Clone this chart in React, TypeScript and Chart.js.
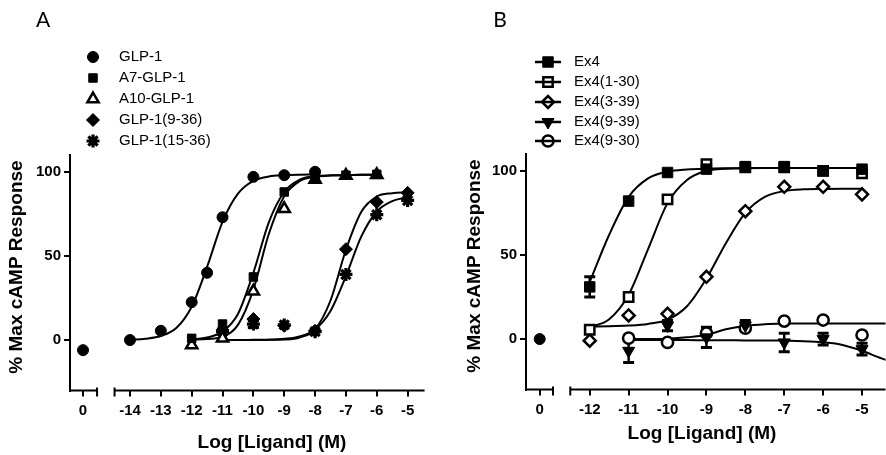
import React, { useEffect, useRef } from 'react';
import { Chart, registerables } from 'chart.js';
import { drawPoint } from 'chart.js/helpers';

Chart.register(...registerables);

// ---------------- shared axis content ----------------
const Y_TICKS = [0, 50, 100];
const ZERO_TICKS = [0];
const Y_TITLE = '% Max cAMP Response';
const X_TITLE = 'Log [Ligand] (M)';

// ---------------- Panel A data ----------------
const A_TICKS = [-14, -13, -12, -11, -10, -9, -8, -7, -6, -5];
const A_LABELS = ['GLP-1', 'A7-GLP-1', 'A10-GLP-1', 'GLP-1(9-36)', 'GLP-1(15-36)'];
const A_BASAL_X = [0];
const A_BASAL_Y = [-6];
const A_GLP1_X = [-14, -13, -12, -11.5, -11, -10, -9, -8];
const A_GLP1_Y = [0, 5.5, 22.5, 40, 73, 97, 98, 100];
const A_A7_X = [-12, -11, -10, -9, -8, -7, -6];
const A_A7_Y = [1, 9.5, 37.5, 88, 96, 98, 98.5];
const A_A10_X = [-12, -11, -10, -9, -8, -7, -6];
const A_A10_Y = [-3, 1, 29, 78, 95.5, 97.8, 98.2];
const A_G936_X = [-11, -10, -9, -8, -7, -6, -5];
const A_G936_Y = [6, 12.5, 8.5, 5.5, 54, 82, 87.5];
const A_G1536_X = [-11, -10, -9, -8, -7, -6, -5];
const A_G1536_Y = [5, 9.5, 9, 5, 39, 74.5, 83];
const A_G1536_ERR = [0, 2, 0, 0, 0, 0, 0];

// fitted curves, every half log unit
const A_FIT_GLP1_X = [-14, -13.5, -13, -12.5, -12, -11.5, -11, -10.5, -10, -9.5, -9, -8.5, -8];
const A_FIT_GLP1_Y = [0.2, 0.8, 2.4, 7.1, 19.8, 43.5, 70.3, 87, 94.6, 97.2, 98, 98.3, 98.4];
const A_FIT_A7_X = [-12, -11.5, -11, -10.5, -10, -9.5, -9, -8.5, -8, -7.5, -7, -6.5, -6];
const A_FIT_A7_Y = [0.4, 1.5, 5, 15.5, 40, 70, 88, 95.3, 97.4, 97.9, 98, 98.2, 98.3];
const A_FIT_A10_X = [-12, -11.5, -11, -10.5, -10, -9.5, -9, -8.5, -8, -7.5, -7, -6.5, -6];
const A_FIT_A10_Y = [0.2, 0.6, 2, 9, 30, 63, 85.5, 94.5, 97, 97.8, 98, 98.2, 98.3];
const A_FIT_G936_X = [-11, -10.5, -10, -9.5, -9, -8.5, -8, -7.5, -7, -6.5, -6, -5.5, -5];
const A_FIT_G936_Y = [0, 0, 0, 0.1, 0.3, 1.5, 6.4, 23.5, 53.7, 76.3, 85.3, 87.3, 87.9];
const A_FIT_G1536_X = [-11, -10.5, -10, -9.5, -9, -8.5, -8, -7.5, -7, -6.5, -6, -5.5, -5];
const A_FIT_G1536_Y = [0, 0, 0.1, 0.2, 0.7, 2.1, 6.3, 17.3, 38, 61.6, 76.4, 82.6, 85];

// ---------------- Panel B data ----------------
const B_TICKS = [-12, -11, -10, -9, -8, -7, -6, -5];
const B_LABELS = ['Ex4', 'Ex4(1-30)', 'Ex4(3-39)', 'Ex4(9-39)', 'Ex4(9-30)'];
const B_BASAL_X = [0];
const B_BASAL_Y = [0];
const B_EX4_X = [-12, -11, -10, -9, -8, -7, -6, -5];
const B_EX4_Y = [31, 82, 99, 101, 102.5, 102.5, 100, 101];
const B_EX4_ERR = [6, 0, 0, 0, 0, 0, 0, 0];
const B_E130_X = [-12, -11, -10, -9, -8, -7, -6, -5];
const B_E130_Y = [5.5, 25, 83, 104, 102, 102, 100, 98.5];
const B_E339_X = [-12, -11, -10, -9, -8, -7, -6, -5];
const B_E339_Y = [-1, 14, 15, 37, 76, 90.5, 90.5, 86];
const B_E939_X = [-11, -10, -9, -8, -7, -6, -5];
const B_E939_Y = [-7, 8, 1, 8, -2, 0, -6];
const B_E939_ERR = [7, 3, 6, 3, 5.5, 3.5, 3.5];
const B_E930_X = [-11, -10, -9, -8, -7, -6, -5];
const B_E930_Y = [0.5, -2, 3.5, 6.5, 10.7, 11.3, 2.4];

const B_FIT_EX4_X = [-12, -11.5, -11, -10.5, -10, -9.5, -9, -8.5, -8, -7.5, -7, -6.5, -6, -5.5, -5];
const B_FIT_EX4_Y = [34, 62, 84.5, 95.5, 99.5, 100.8, 101.3, 101.5, 101.6, 101.7, 101.7, 101.7, 101.7, 101.7, 101.7];
const B_FIT_E130_X = [-12, -11.5, -11, -10.5, -10, -9.5, -9, -8.5, -8, -7.5, -7, -6.5, -6, -5.5, -5];
const B_FIT_E130_Y = [7, 11.7, 26.3, 53.5, 80.8, 94.5, 100, 101.3, 101.6, 101.7, 101.7, 101.7, 101.7, 101.7, 101.7];
const B_FIT_E339_X = [-12, -11.5, -11, -10.5, -10, -9.5, -9, -8.5, -8, -7.5, -7, -6.5, -6, -5.5, -5];
const B_FIT_E339_Y = [7.5, 7.6, 8, 9, 11.5, 19.5, 36, 57, 75, 84.5, 88, 89, 89.2, 89.3, 89.3];
const B_FIT_E939_X = [-11, -10.5, -10, -9.5, -9, -8.5, -8, -7.5, -7, -6.5, -6, -5.5, -5, -4.5, -4];
const B_FIT_E939_Y = [-0.5, -0.5, -0.6, -0.6, -0.7, -0.7, -0.8, -0.8, -1, -1.3, -2, -3.5, -7, -11.5, -15];
const B_FIT_E930_X = [-11, -10.5, -10, -9.5, -9, -8.5, -8, -7.5, -7, -6.5, -6, -5.5, -5, -4.5, -4];
const B_FIT_E930_Y = [0, 0, 0.2, 1, 2.5, 5.8, 7.8, 8.8, 9.2, 9.3, 9.3, 9.3, 9.3, 9.3, 9.3];

// ---------------- styles ----------------
const FONT = '"Liberation Sans", Arial, Helvetica, sans-serif';
const WHITE = '#ffffff';
const BLACK = '#000000';

const ST = {
  dotA: { pointStyle: 'circle', radius: 5.5, fill: BLACK, borderWidth: 1 },
  sqA: { pointStyle: 'rect', radius: 6, fill: BLACK, borderWidth: 1 },
  triOpenA: { pointStyle: 'triangle', radius: 6.5, fill: WHITE, borderWidth: 2.5 },
  diaA: { pointStyle: 'rectRot', radius: 6.5, fill: BLACK, borderWidth: 1 },
  starA: { pointStyle: 'star', radius: 6.5, fill: BLACK, borderWidth: 3.2 },
  sqB: { pointStyle: 'rect', radius: 7.4, fill: BLACK, borderWidth: 1 },
  sqOpenB: { pointStyle: 'rect', radius: 6.6, fill: WHITE, borderWidth: 2.5 },
  diaOpenB: { pointStyle: 'rectRot', radius: 6, fill: WHITE, borderWidth: 2.5 },
  triDownB: { pointStyle: 'triangle', radius: 7, fill: BLACK, borderWidth: 1, rotation: 180 },
  circOpenB: { pointStyle: 'circle', radius: 5.6, fill: WHITE, borderWidth: 2.5 },
  dotB: { pointStyle: 'circle', radius: 5.5, fill: BLACK, borderWidth: 1 },
};

const PANELS = [
  {
    letter: 'A', left: 0, letterPos: [43, 20],
    ticks: A_TICKS, xMin: -14.8, xMax: -4.45, axisStart: -14.5,
    zMin: -1, zMax: 1.715, zSegEnd: 1.08, zWeight: 35.3, xWeight: 319.3,
    yWidth: 70, padTop: 155, padRight: 18.4, xHeight: 64.5,
    xTitlePos: [272, 443], yTitlePos: [17, 267],
    legend: { markerX: 93, textX: 119, rows: [57, 78, 99, 120, 141], line: false },
    basal: { x: A_BASAL_X, y: A_BASAL_Y, style: ST.dotA },
    series: [
      { label: A_LABELS[0], x: A_GLP1_X, y: A_GLP1_Y, style: ST.dotA },
      { label: A_LABELS[1], x: A_A7_X, y: A_A7_Y, style: ST.sqA },
      { label: A_LABELS[2], x: A_A10_X, y: A_A10_Y, style: ST.triOpenA },
      { label: A_LABELS[3], x: A_G936_X, y: A_G936_Y, style: ST.diaA },
      { label: A_LABELS[4], x: A_G1536_X, y: A_G1536_Y, err: A_G1536_ERR, style: ST.starA },
    ],
    fits: [
      { x: A_FIT_GLP1_X, y: A_FIT_GLP1_Y },
      { x: A_FIT_A7_X, y: A_FIT_A7_Y },
      { x: A_FIT_A10_X, y: A_FIT_A10_Y },
      { x: A_FIT_G936_X, y: A_FIT_G936_Y },
      { x: A_FIT_G1536_X, y: A_FIT_G1536_Y },
    ],
  },
  {
    letter: 'B', left: 443, letterPos: [57, 20],
    ticks: B_TICKS, xMin: -12.7, xMax: -4.397, axisStart: -12.5,
    zMin: -1, zMax: 1.664, zSegEnd: 0.97, zWeight: 36.5, xWeight: 323,
    yWidth: 83, padTop: 154, padRight: 0.5, xHeight: 65.5,
    xTitlePos: [259, 434], yTitlePos: [32, 266],
    legend: { markerX: 105, textX: 131, rows: [62, 82, 102, 122, 141], line: true, lineX0: 92, lineX1: 118 },
    basal: { x: B_BASAL_X, y: B_BASAL_Y, style: ST.dotB },
    series: [
      { label: B_LABELS[0], x: B_EX4_X, y: B_EX4_Y, err: B_EX4_ERR, style: ST.sqB },
      { label: B_LABELS[1], x: B_E130_X, y: B_E130_Y, style: ST.sqOpenB },
      { label: B_LABELS[2], x: B_E339_X, y: B_E339_Y, style: ST.diaOpenB },
      { label: B_LABELS[3], x: B_E939_X, y: B_E939_Y, err: B_E939_ERR, style: ST.triDownB },
      { label: B_LABELS[4], x: B_E930_X, y: B_E930_Y, style: ST.circOpenB },
    ],
    fits: [
      { x: B_FIT_EX4_X, y: B_FIT_EX4_Y },
      { x: B_FIT_E130_X, y: B_FIT_E130_Y },
      { x: B_FIT_E339_X, y: B_FIT_E339_Y },
      { x: B_FIT_E939_X, y: B_FIT_E939_Y },
      { x: B_FIT_E930_X, y: B_FIT_E930_Y },
    ],
  },
];

function pts(xs: number[], ys: number[]) {
  return xs.map((x, i) => ({ x, y: ys[i] }));
}

function pointDataset(label: string, xs: number[], ys: number[], st: any, xAxisID: string) {
  return {
    label,
    data: pts(xs, ys),
    xAxisID,
    yAxisID: 'y',
    showLine: false,
    pointStyle: st.pointStyle,
    pointRadius: st.radius,
    pointHoverRadius: st.radius,
    pointRotation: st.rotation || 0,
    pointBackgroundColor: st.fill,
    pointBorderColor: BLACK,
    pointBorderWidth: st.borderWidth,
    borderColor: BLACK,
    backgroundColor: st.fill,
  };
}

function makePlugin(p: any) {
  return {
    id: 'decor' + p.letter,
    beforeDatasetsDraw(chart: any) {
      const { ctx } = chart;
      const xs = chart.scales.x;
      const ys = chart.scales.y;
      ctx.save();
      ctx.strokeStyle = BLACK;
      ctx.lineCap = 'butt';
      p.series.forEach((s: any) => {
        if (!s.err) return;
        s.err.forEach((e: number, i: number) => {
          if (!e) return;
          const px = xs.getPixelForValue(s.x[i]);
          const top = ys.getPixelForValue(s.y[i] + e);
          const bot = ys.getPixelForValue(s.y[i] - e);
          ctx.lineWidth = 2.5;
          ctx.beginPath();
          ctx.moveTo(px, top);
          ctx.lineTo(px, bot);
          ctx.stroke();
          ctx.lineWidth = 3;
          ctx.beginPath();
          ctx.moveTo(px - 5.5, top);
          ctx.lineTo(px + 5.5, top);
          ctx.moveTo(px - 5.5, bot);
          ctx.lineTo(px + 5.5, bot);
          ctx.stroke();
        });
      });
      ctx.restore();
    },
    afterDraw(chart: any) {
      const { ctx, chartArea } = chart;
      const xs = chart.scales.x;
      const xz = chart.scales.xz;
      const yb = chartArea.bottom;
      ctx.save();
      ctx.strokeStyle = BLACK;
      ctx.lineWidth = 2;
      ctx.lineCap = 'butt';
      // broken x axis: zero-dose segment
      const zEnd = xz.getPixelForValue(p.zSegEnd);
      ctx.beginPath();
      ctx.moveTo(chartArea.left - 1, yb);
      ctx.lineTo(zEnd, yb);
      ctx.moveTo(zEnd, yb - 3);
      ctx.lineTo(zEnd, yb + 6);
      // log-dose segment
      const xStart = xs.getPixelForValue(p.axisStart);
      ctx.moveTo(xStart, yb);
      ctx.lineTo(xs.right, yb);
      ctx.moveTo(xStart, yb - 3);
      ctx.lineTo(xStart, yb + 6);
      ctx.stroke();

      // axis titles
      ctx.fillStyle = BLACK;
      ctx.font = 'bold 19px ' + FONT;
      ctx.textAlign = 'center';
      ctx.textBaseline = 'middle';
      ctx.fillText(X_TITLE, p.xTitlePos[0], p.xTitlePos[1]);
      ctx.save();
      ctx.translate(p.yTitlePos[0], p.yTitlePos[1]);
      ctx.rotate(-Math.PI / 2);
      ctx.fillText(Y_TITLE, 0, 0);
      ctx.restore();

      // panel letter
      ctx.font = '21px Lato, "Open Sans", sans-serif';
      ctx.fillText(p.letter, p.letterPos[0], p.letterPos[1]);

      // legend
      const lg = p.legend;
      p.series.forEach((s: any, i: number) => {
        const ry = lg.rows[i];
        const st = s.style;
        ctx.fillStyle = st.fill;
        ctx.strokeStyle = BLACK;
        ctx.lineWidth = st.borderWidth;
        drawPoint(ctx, { pointStyle: st.pointStyle, radius: st.radius, rotation: st.rotation || 0, borderWidth: st.borderWidth } as any, lg.markerX, ry);
        if (lg.line) {
          ctx.lineWidth = 2.5;
          ctx.strokeStyle = BLACK;
          ctx.beginPath();
          ctx.moveTo(lg.lineX0, ry);
          ctx.lineTo(lg.lineX1, ry);
          ctx.stroke();
        }
        ctx.fillStyle = BLACK;
        ctx.font = '15px ' + FONT;
        ctx.textAlign = 'left';
        ctx.textBaseline = 'middle';
        ctx.fillText(s.label, lg.textX, ry);
      });
      ctx.restore();
    },
  };
}

function makeConfig(p: any) {
  const datasets: any[] = [];
  p.series.forEach((s: any) => datasets.push(pointDataset(s.label, s.x, s.y, s.style, 'x')));
  datasets.push(pointDataset('Basal', p.basal.x, p.basal.y, p.basal.style, 'xz'));
  p.fits.forEach((f: any, i: number) =>
    datasets.push({
      label: p.series[i].label + ' fit',
      data: pts(f.x, f.y),
      xAxisID: 'x',
      yAxisID: 'y',
      showLine: true,
      pointRadius: 0,
      pointHoverRadius: 0,
      borderColor: BLACK,
      borderWidth: 2,
      cubicInterpolationMode: 'monotone',
      fill: false,
    })
  );

  const tickFont = { family: FONT, size: 15, weight: 'bold' };
  const xCommon = {
    type: 'linear',
    position: 'bottom',
    stack: 'dose',
    grid: { drawOnChartArea: false, color: BLACK, lineWidth: 2, tickLength: 6 },
    border: { display: false },
    ticks: { color: BLACK, font: tickFont, padding: 5, maxRotation: 0, minRotation: 0, autoSkip: false, callback: (v: any) => String(v) },
  };

  return {
    type: 'line',
    data: { datasets },
    options: {
      responsive: false,
      animation: false,
      devicePixelRatio: 1,
      events: [],
      layout: { autoPadding: false, padding: { left: 0, right: p.padRight, top: p.padTop, bottom: 0 } },
      plugins: { legend: { display: false }, tooltip: { enabled: false }, title: { display: false } },
      scales: {
        xz: {
          ...xCommon,
          weight: 0,
          stackWeight: p.zWeight,
          min: p.zMin,
          max: p.zMax,
          afterBuildTicks: (s: any) => { s.ticks = ZERO_TICKS.map((v) => ({ value: v })); },
          afterFit: (s: any) => { s.height = p.xHeight; s.paddingLeft = 0; s.paddingRight = 0; },
        },
        x: {
          ...xCommon,
          weight: 1,
          stackWeight: p.xWeight,
          min: p.xMin,
          max: p.xMax,
          afterBuildTicks: (s: any) => { s.ticks = p.ticks.map((v: number) => ({ value: v })); },
          afterFit: (s: any) => { s.height = p.xHeight; s.paddingLeft = 0; s.paddingRight = 0; },
        },
        y: {
          type: 'linear',
          position: 'left',
          min: -30,
          max: 110,
          afterBuildTicks: (s: any) => { s.ticks = Y_TICKS.map((v) => ({ value: v })); },
          afterFit: (s: any) => { s.width = p.yWidth; s.paddingTop = 0; s.paddingBottom = 0; },
          grid: { drawOnChartArea: false, color: BLACK, lineWidth: 2, tickLength: 6 },
          border: { display: true, color: BLACK, width: 2 },
          ticks: { color: BLACK, font: tickFont, padding: 3, callback: (v: any) => String(v) },
          title: { display: false },
        },
      },
    },
    plugins: [makePlugin(p)],
  };
}

function Panel({ p }: { p: any }) {
  const ref = useRef<HTMLCanvasElement | null>(null);
  useEffect(() => {
    if (!ref.current) return;
    const chart = new Chart(ref.current, makeConfig(p) as any);
    return () => chart.destroy();
  }, [p]);
  return (
    <canvas
      ref={ref}
      width={443}
      height={455}
      style={{ position: 'absolute', left: p.left, top: 0, width: 443, height: 455 }}
    />
  );
}

export default function App() {
  return (
    <div style={{ position: 'absolute', left: 0, top: 0, width: 886, height: 455, background: '#fff', overflow: 'hidden' }}>
      {PANELS.map((p) => (
        <Panel key={p.letter} p={p} />
      ))}
    </div>
  );
}
